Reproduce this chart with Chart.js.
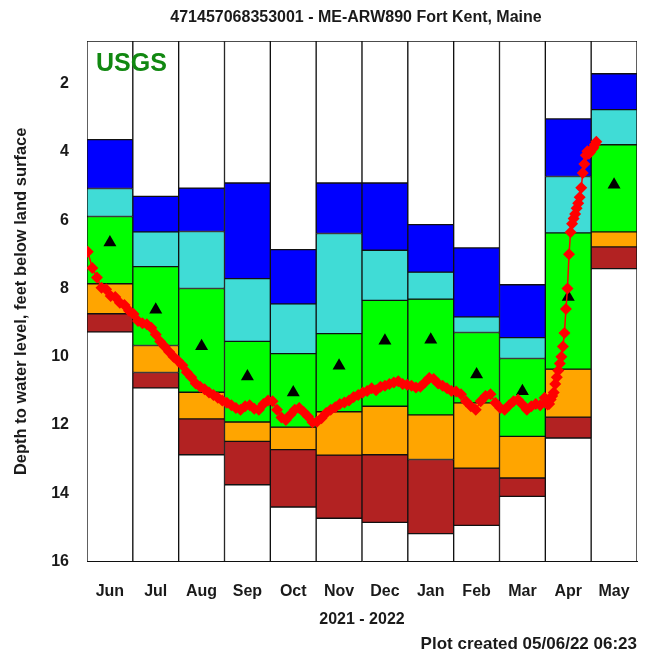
<!DOCTYPE html>
<html>
<head>
<meta charset="utf-8">
<script src="https://cdn.jsdelivr.net/npm/chart.js@4.4.0/dist/chart.umd.min.js"></script>
<style>
  html, body { margin: 0; padding: 0; background: #fff; }
  #wrap { width: 653px; height: 655px; }
</style>
</head>
<body>
<div id="wrap"><canvas id="chart"></canvas></div>
<script>
const months = ['Jun', 'Jul', 'Aug', 'Sep', 'Oct', 'Nov', 'Dec', 'Jan', 'Feb', 'Mar', 'Apr', 'May'];
const monthDays = [30, 31, 31, 30, 31, 30, 31, 31, 28, 31, 30, 31];
const depthTicks = [2, 4, 6, 8, 10, 12, 14, 16];
const depthTop = 0.75;
const depthBottom = 16;

// monthly percentile boundaries, feet below land surface
const highest = [3.64, 5.30, 5.06, 4.91, 6.86, 4.91, 4.91, 6.13, 6.81, 7.89, 3.03, 1.71];
const p90 = [5.07, 6.34, 6.33, 7.71, 8.45, 6.39, 6.88, 7.52, 8.83, 9.44, 4.72, 2.76];
const p75 = [5.89, 7.36, 8.00, 9.55, 9.91, 9.32, 8.35, 8.31, 9.29, 10.05, 6.37, 3.79];
const p25 = [7.86, 9.67, 11.04, 11.91, 12.06, 11.61, 11.45, 11.70, 11.35, 12.33, 10.36, 6.34];
const p10 = [8.74, 10.46, 11.82, 12.48, 12.72, 12.88, 12.87, 13.01, 13.26, 13.55, 11.77, 6.78];
const lowest = [9.27, 10.91, 12.87, 13.75, 14.40, 14.73, 14.85, 15.18, 14.94, 14.09, 12.38, 7.42];
const median = [6.65, 8.62, 9.69, 10.58, 11.05, 10.26, 9.53, 9.50, 10.52, 11.01, 8.25, 4.96];

// water level record: days since 2021-06-01 and depth
const levelDay = [
  0, 3, 6, 9, 12, 15, 18, 21, 24, 27,
  30, 33, 36, 39, 42, 45, 48, 51, 54, 57,
  60, 63, 66, 69, 72, 75, 78, 81, 84, 87,
  90, 93, 96, 99, 102, 105, 108, 111, 114, 117,
  120, 123, 126, 129, 132, 135, 138, 141, 144, 147,
  150, 153, 156, 159, 162, 165, 168, 171, 174, 177,
  180, 183, 186, 189, 192, 195, 198, 201, 204, 207,
  210, 213, 216, 219, 222, 225, 228, 231, 234, 237,
  240, 243, 246, 249, 252, 255, 258, 261, 264, 267,
  270, 273, 276, 279, 282, 285, 288, 291, 294, 297,
  300, 303,
  304, 305, 306, 307, 308, 309, 310, 311, 312, 313,
  314, 315, 316, 317, 318, 319, 320, 321, 322, 323,
  324, 325, 326, 327, 328, 329, 330, 331, 332, 333,
  334, 335, 336, 337
];
const levelDepth = [
  6.92, 7.40, 7.68, 7.98, 8.02, 8.22, 8.25, 8.42, 8.48, 8.65,
  8.75, 8.95, 9.02, 9.05, 9.15, 9.35, 9.55, 9.70, 9.85, 10.00,
  10.12, 10.25, 10.45, 10.60, 10.78, 10.88, 10.95, 11.05, 11.12, 11.20,
  11.28, 11.35, 11.42, 11.50, 11.55, 11.45, 11.42, 11.52, 11.55, 11.38,
  11.28, 11.30, 11.55, 11.78, 11.85, 11.70, 11.55, 11.50, 11.62, 11.75,
  11.92, 11.90, 11.80, 11.65, 11.55, 11.48, 11.38, 11.34, 11.28, 11.18,
  11.12, 11.05, 11.00, 10.92, 10.98, 10.88, 10.85, 10.80, 10.75, 10.72,
  10.80, 10.82, 10.85, 10.90, 10.88, 10.75, 10.62, 10.65, 10.78, 10.85,
  10.92, 11.00, 11.02, 11.10, 11.30, 11.45, 11.55, 11.30, 11.15, 11.10,
  11.35, 11.50, 11.55, 11.42, 11.30, 11.26, 11.40, 11.55, 11.45, 11.38,
  11.42, 11.20,
  11.35, 11.40, 11.38, 11.25, 11.15, 11.05, 10.80, 10.60, 10.40, 10.20,
  10.00, 9.70, 9.30, 8.60, 8.00, 7.00, 6.35, 6.10, 5.95, 5.82,
  5.65, 5.50, 5.33, 5.05, 4.62, 4.35, 4.10, 3.98, 4.05, 4.00,
  3.93, 3.88, 3.78, 3.70
];

const FONT = '"Liberation Sans", Arial, Helvetica, sans-serif';
const TEXT = '#1a1a1a';
const chartTitle = '471457068353001 - ME-ARW890 Fort Kent, Maine';

// day offset -> position in month units (0 = start of June)
function monthPos(day) {
  let start = 0;
  for (let m = 0; m < monthDays.length; m++) {
    if (day < start + monthDays[m]) return m + (day - start + 0.5) / monthDays[m];
    start += monthDays[m];
  }
  return monthDays.length;
}

function band(lo, hi, color) {
  return {
    type: 'bar',
    data: months.map((m, i) => [lo[i], hi[i]]),
    backgroundColor: color,
    borderColor: '#111',
    borderWidth: 1,
    borderSkipped: false,
    grouped: false,
    barPercentage: 1,
    categoryPercentage: 1,
    order: 2
  };
}

const topEdge = months.map(() => depthTop);
const bottomEdge = months.map(() => depthBottom);

// site title and USGS mark
const extraText = {
  id: 'extraText',
  afterDatasetsDraw(chart) {
    const {ctx, chartArea} = chart;
    ctx.save();
    ctx.textBaseline = 'middle';
    ctx.font = 'bold 25px ' + FONT;
    ctx.fillStyle = '#118811';
    ctx.fillText('USGS', chartArea.left + 9, chartArea.top + 23);
    ctx.font = 'bold 16px ' + FONT;
    ctx.fillStyle = TEXT;
    ctx.textAlign = 'center';
    ctx.fillText(chartTitle, (chartArea.left + chartArea.right) / 2 - 6, 18);
    ctx.restore();
  }
};

new Chart(document.getElementById('chart'), {
  data: {
    labels: months,
    datasets: [
      {
        type: 'line',
        data: levelDay.map((d, i) => ({x: monthPos(d), y: levelDepth[i]})),
        xAxisID: 'xLine',
        borderColor: '#ff0000',
        borderWidth: 1.5,
        pointStyle: 'rectRot',
        pointRadius: 6,
        pointBackgroundColor: '#ff0000',
        pointBorderWidth: 0,
        tension: 0,
        order: 0
      },
      {
        type: 'line',
        data: median,
        showLine: false,
        pointStyle: 'triangle',
        pointRadius: 7.5,
        pointBackgroundColor: '#000',
        pointBorderColor: '#000',
        pointBorderWidth: 0,
        order: 1
      },
      band(topEdge, highest, '#ffffff'),
      band(highest, p90, '#0000ff'),
      band(p90, p75, '#40dcd6'),
      band(p75, p25, '#00ff00'),
      band(p25, p10, '#ffa500'),
      band(p10, lowest, '#b22222'),
      band(lowest, bottomEdge, '#ffffff')
    ]
  },
  options: {
    responsive: true,
    maintainAspectRatio: false,
    animation: false,
    layout: { padding: { left: 0, right: 16, top: 41, bottom: 0 } },
    plugins: {
      legend: { display: false },
      tooltip: { enabled: false },
      subtitle: {
        display: true,
        text: 'Plot created 05/06/22 06:23',
        position: 'bottom',
        align: 'end',
        color: TEXT,
        font: { family: FONT, size: 17, weight: 'bold' },
        padding: { top: 3, bottom: 0 }
      }
    },
    scales: {
      x: {
        type: 'category',
        offset: true,
        grid: { display: false },
        border: { display: true, color: '#111', width: 1 },
        ticks: { color: TEXT, padding: 12, font: { family: FONT, size: 16, weight: 'bold' } },
        title: {
          display: true,
          text: '2021 - 2022',
          color: TEXT,
          font: { family: FONT, size: 16, weight: 'bold' },
          padding: { top: 4, bottom: 2 }
        },
        afterFit(scale) { scale.height = 70; }
      },
      xLine: { type: 'linear', min: 0, max: 12, display: false },
      y: {
        reverse: true,
        min: depthTop,
        max: depthBottom,
        grid: { display: false },
        border: { display: true, color: '#111', width: 1 },
        afterBuildTicks(scale) { scale.ticks = depthTicks.map(v => ({value: v})); },
        ticks: { color: TEXT, padding: 10, font: { family: FONT, size: 16, weight: 'bold' } },
        title: {
          display: true,
          text: 'Depth to water level, feet below land surface',
          color: TEXT,
          font: { family: FONT, size: 16.5, weight: 'bold' },
          padding: { top: 12, bottom: 0 }
        },
        afterFit(scale) { scale.width = 87; }
      }
    }
  },
  plugins: [extraText]
});
</script>
</body>
</html>
